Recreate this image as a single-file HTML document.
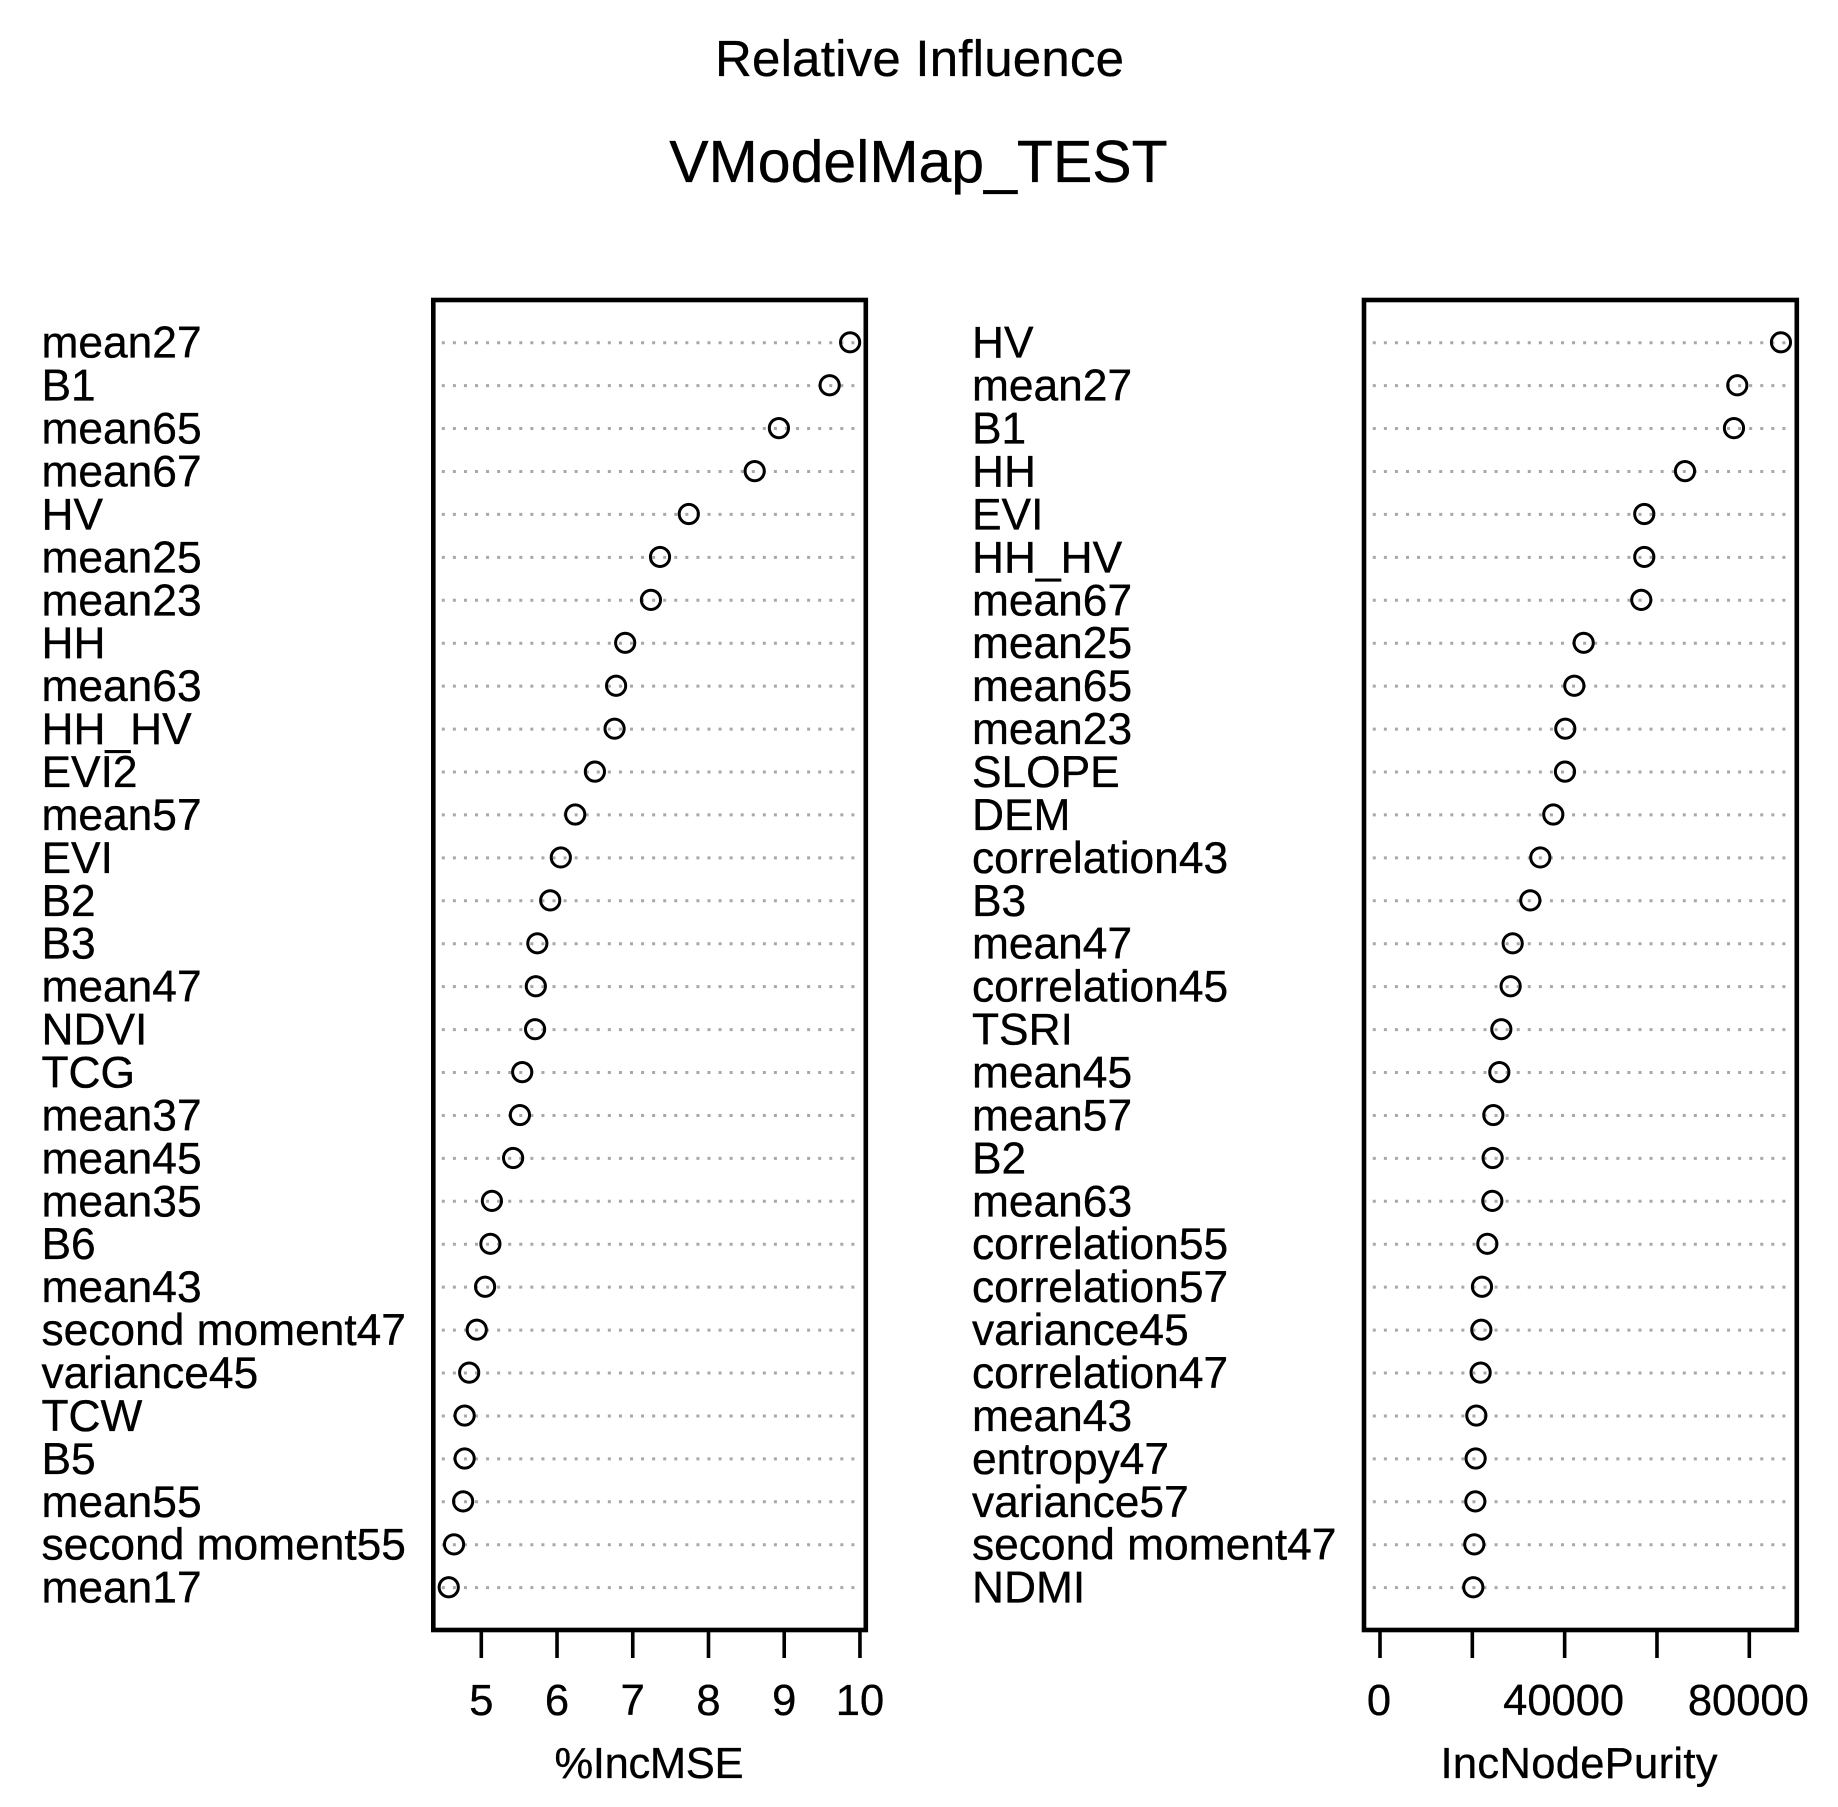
<!DOCTYPE html>
<html lang="en">
<head>
<meta charset="utf-8">
<title>Relative Influence - VModelMap_TEST</title>
<style>
html,body{margin:0;padding:0;background:#fff;}
svg{display:block;}
text{font-family:"Liberation Sans",Arial,sans-serif;fill:#000;stroke:#000;stroke-width:0.35px;}
</style>
</head>
<body>
<svg id="chart" xmlns="http://www.w3.org/2000/svg" width="1838" height="1807" viewBox="0 0 1838 1807">
  <rect x="0" y="0" width="1838" height="1807" fill="#fff"/>
  <text x="919.5" y="76" font-size="51" text-anchor="middle" textLength="409" lengthAdjust="spacing">Relative Influence</text>
  <text x="918.5" y="182" font-size="59" text-anchor="middle">VModelMap_TEST</text>
</svg>
<script>
var mseCategories = ["mean27","B1","mean65","mean67","HV","mean25","mean23","HH","mean63","HH_HV","EVI2","mean57","EVI","B2","B3","mean47","NDVI","TCG","mean37","mean45","mean35","B6","mean43","second moment47","variance45","TCW","B5","mean55","second moment55","mean17"];
var mseValues = [9.87,9.60,8.93,8.61,7.74,7.36,7.24,6.90,6.78,6.76,6.50,6.24,6.05,5.91,5.74,5.72,5.71,5.54,5.51,5.42,5.14,5.12,5.05,4.94,4.84,4.78,4.78,4.76,4.64,4.57];
var mseTicks = [5,6,7,8,9,10];
var mseTickLabels = ["5","6","7","8","9","10"];

var purityCategories = ["HV","mean27","B1","HH","EVI","HH_HV","mean67","mean25","mean65","mean23","SLOPE","DEM","correlation43","B3","mean47","correlation45","TSRI","mean45","mean57","B2","mean63","correlation55","correlation57","variance45","correlation47","mean43","entropy47","variance57","second moment47","NDMI"];
var purityValues = [86860,77400,76680,66070,57250,57250,56600,44120,42090,40140,40070,37540,34730,32560,28740,28300,26280,25850,24550,24400,24330,23250,22090,21950,21800,20870,20720,20650,20430,20210];
var purityTicks = [0,20000,40000,60000,80000];
var purityTickLabels = ["0","","40000","","80000"];

var svg = document.getElementById('chart');
var NS = 'http://www.w3.org/2000/svg';
var ROW_TOP = 342.3, ROW_STEP = 42.93;
var FRAME_TOP = 300, FRAME_BOTTOM = 1630;

function mk(tag, attrs, parent) {
  var el = document.createElementNS(NS, tag);
  for (var k in attrs) el.setAttribute(k, attrs[k]);
  (parent || svg).appendChild(el);
  return el;
}
function rowY(i) { return ROW_TOP + i * ROW_STEP; }

function drawPanel(p) {
  var xOf = function (v) { return p.x0 + (v - p.v0) * p.scale; };
  var g = mk('g', {});
  
  

  p.categories.forEach(function (cat, i) {
    var y = rowY(i);
    var label = mk('text', { x: p.labelX, y: y + 15.4, 'font-size': 44.3 }, g);
    label.textContent = cat;
    
    

    var guide = mk('line', { x1: p.dotL, x2: p.dotR, y1: y + 0.4, y2: y + 0.4, stroke: '#a8a8a8', 'stroke-width': 3, 'stroke-dasharray': '3 8.07' }, g);
    
    

    var pt = mk('circle', { cx: xOf(p.values[i]), cy: y, r: 9.6, fill: 'none', stroke: '#000', 'stroke-width': 3 }, g);
    
    
  });

  var frame = mk('rect', { x: p.left, y: FRAME_TOP, width: p.right - p.left, height: FRAME_BOTTOM - FRAME_TOP, fill: 'none', stroke: '#000', 'stroke-width': 4.6 }, g);
  
  

  p.ticks.forEach(function (t, i) {
    var tick = mk('line', { x1: xOf(t), x2: xOf(t), y1: FRAME_BOTTOM, y2: 1658, stroke: '#000', 'stroke-width': 3.6 }, g);
    
    
    if (p.tickLabels[i]) {
      var tl = mk('text', { x: xOf(t) + p.tickLabelDx, y: 1715, 'font-size': 43.5, 'text-anchor': 'middle' }, g);
      tl.textContent = p.tickLabels[i];
      
      
    }
  });

  var title = mk('text', { x: p.titleX, y: 1778, 'font-size': 43.5, 'text-anchor': 'middle', textLength: p.titleLen, lengthAdjust: 'spacing' }, g);
  title.textContent = p.xTitle;
  
  
}

drawPanel({
  name: 'inc-mse', categories: mseCategories, values: mseValues,
  ticks: mseTicks, tickLabels: mseTickLabels, xTitle: '%IncMSE',
  x0: 481.3, v0: 5, scale: 75.73, tickLabelDx: 0,
  left: 433.3, right: 865.8, dotL: 441.8, dotR: 855, labelX: 41.5,
  titleX: 649, titleLen: 189
});
drawPanel({
  name: 'inc-node-purity', categories: purityCategories, values: purityValues,
  ticks: purityTicks, tickLabels: purityTickLabels, xTitle: 'IncNodePurity',
  x0: 1380, v0: 0, scale: 369.3 / 80000, tickLabelDx: -1,
  left: 1364, right: 1796.8, dotL: 1372.8, dotR: 1785.5, labelX: 972,
  titleX: 1579, titleLen: 277
});
</script>
</body>
</html>
